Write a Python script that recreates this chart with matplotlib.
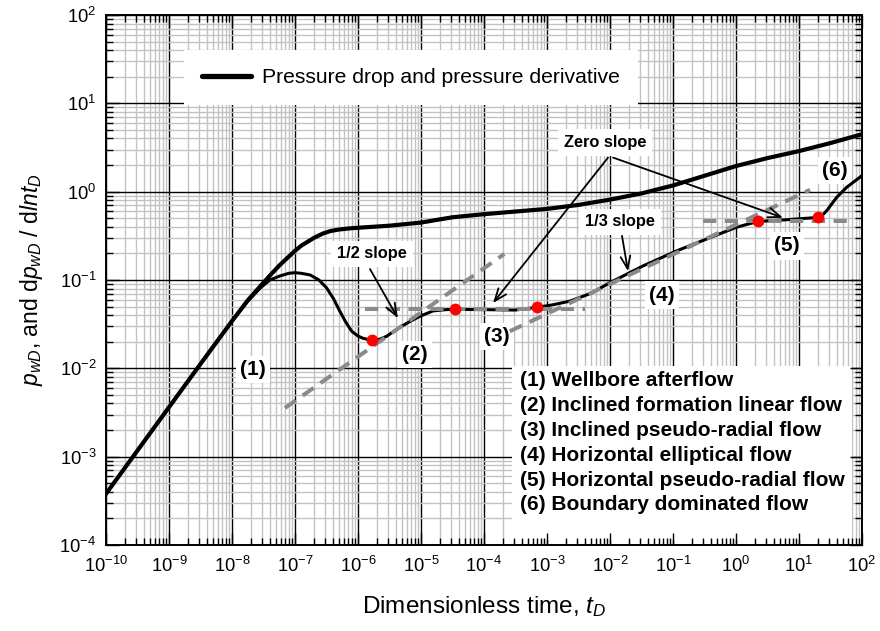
import numpy as np
import matplotlib
matplotlib.use('Agg')
import matplotlib.pyplot as plt
from matplotlib.lines import Line2D
from matplotlib.patches import Rectangle
from matplotlib.ticker import LogLocator, NullFormatter

plt.rcParams['font.family'] = ['Liberation Sans', 'DejaVu Sans']
plt.rcParams['mathtext.fontset'] = 'custom'
plt.rcParams['mathtext.rm'] = 'Liberation Sans'
plt.rcParams['mathtext.it'] = 'Liberation Sans:italic'
plt.rcParams['mathtext.bf'] = 'Liberation Sans:bold'

# ---------------- data ----------------
t_pressure = [1e-10, 1e-9, 3.16e-9, 1e-8, 1.78e-8, 2.82e-8, 3.98e-8, 5.75e-8, 1e-7,
              1.26e-7, 2e-7, 2.75e-7, 3.63e-7, 5e-7, 7.94e-7, 3.16e-6, 1e-5, 3.16e-5, 1e-4,
              3.16e-4, 1e-3, 3.16e-3, 1e-2, 3.16e-2, 0.1, 0.316, 1.0, 3.16, 10.0, 31.6, 100.0]
p_pressure = [3.8e-4, 3.63e-3, 0.0112, 0.0343, 0.0589, 0.0851, 0.112, 0.148, 0.214,
              0.245, 0.300, 0.335, 0.358, 0.373, 0.386, 0.412, 0.447, 0.513, 0.556,
              0.596, 0.638, 0.708, 0.813, 0.955, 1.175, 1.514, 1.95, 2.40, 2.88, 3.55, 4.47]

t_deriv = [1e-10, 1e-9, 3.16e-9, 1e-8, 1.78e-8, 2.82e-8, 3.98e-8, 5.75e-8, 7.94e-8,
           1e-7, 1.26e-7, 1.74e-7, 2.4e-7, 3.16e-7, 4.07e-7, 5.13e-7, 6.31e-7, 7.94e-7,
           1e-6, 1.2e-6, 1.66e-6, 2.24e-6, 2.85e-6, 3.72e-6, 4.94e-6, 7.08e-6, 9.64e-6,
           1.55e-5, 2.51e-5, 3.47e-5, 1e-4, 3.16e-4, 6.92e-4, 1.26e-3, 2.32e-3, 5.01e-3,
           1e-2, 3.39e-2, 0.115, 0.389, 1.0, 2.21, 6.31, 20.2, 24.0, 27.5, 39.6, 57.1, 100.0]
p_deriv = [3.8e-4, 3.63e-3, 0.0112, 0.0343, 0.0575, 0.0813, 0.100, 0.111, 0.119,
           0.121, 0.119, 0.114, 0.100, 0.0817, 0.0617, 0.0445, 0.0339, 0.0263,
           0.0232, 0.0219, 0.0207, 0.0214, 0.0231, 0.0263, 0.0300, 0.0347, 0.0389,
           0.0447, 0.0462, 0.0465, 0.0462, 0.0457, 0.0490, 0.0525, 0.0577, 0.0708,
           0.0933, 0.145, 0.214, 0.302, 0.394, 0.460, 0.481, 0.511, 0.55, 0.608, 0.861, 1.12, 1.52]

t_dots = [1.66e-6, 3.47e-5, 6.92e-4, 2.21, 20.2]
p_dots = [0.0207, 0.0465, 0.049, 0.460, 0.511]

half_slope_t = [6.9e-8, 2.1e-4]
half_slope_p = [0.00355, 0.197]
zero1_t = [1.3e-6, 4.0e-3]
zero1_p = [0.0468, 0.0468]
third_slope_t = [2.57e-4, 15.0]
third_slope_p = [0.0263, 1.05]
zero2_t = [0.30, 77.0]
zero2_p = [0.46, 0.46]

legend_label = 'Pressure drop and pressure derivative'
phase_labels = ['(1) Wellbore afterflow',
                '(2) Inclined formation linear flow',
                '(3) Inclined pseudo-radial flow',
                '(4) Horizontal elliptical flow',
                '(5) Horizontal pseudo-radial flow',
                '(6) Boundary dominated flow']

# ---------------- figure ----------------
fig = plt.figure(figsize=(8.8, 6.31), dpi=100)
pos = [106 / 880, 86 / 631, 756 / 880, 530 / 631]
ax = fig.add_axes(pos)


def setup_log(a):
    a.set_xscale('log')
    a.set_yscale('log')
    a.set_xlim(1e-10, 1e2)
    a.set_ylim(1e-4, 1e2)
    a.xaxis.set_major_locator(LogLocator(base=10, numticks=20))
    a.yaxis.set_major_locator(LogLocator(base=10, numticks=20))
    a.xaxis.set_minor_locator(LogLocator(base=10, subs=np.arange(2, 10), numticks=200))
    a.yaxis.set_minor_locator(LogLocator(base=10, subs=np.arange(2, 10), numticks=200))
    a.xaxis.set_minor_formatter(NullFormatter())
    a.yaxis.set_minor_formatter(NullFormatter())


setup_log(ax)
ax.set_axisbelow(True)
ax.grid(True, which='minor', color='#c2c2c2', lw=1.0)
ax.grid(True, which='major', color='black', lw=1.0)
ax.tick_params(which='both', length=0, labelsize=13.2)
ax.tick_params(axis='x', pad=8)
ax.tick_params(axis='y', pad=7)
for s in ax.spines.values():
    s.set_visible(False)

# curves
ax.plot(t_pressure, p_pressure, color='black', lw=3.0, zorder=4, solid_joinstyle='round')
ax.plot(t_deriv, p_deriv, color='black', lw=2.2, zorder=4, solid_joinstyle='round')

dash_kw = dict(color='#8a8a8a', lw=2.9, dashes=(3.3, 2.1), zorder=5)
ax.plot(half_slope_t, half_slope_p, **dash_kw)
ax.plot(zero1_t, zero1_p, **dash_kw)
ax.plot(third_slope_t, third_slope_p, **dash_kw)
ax.plot(zero2_t, zero2_p, **dash_kw)

ax.plot(t_dots, p_dots, 'o', color='red', ms=8.5, mec='none', zorder=6)

# labels with white boxes
box = dict(boxstyle='square,pad=0.2', fc='white', ec='none')
lab_kw = dict(fontsize=15, fontweight='bold', ha='center', va='center', bbox=box, zorder=3)
ax.text(2.15e-8, 0.00975, '(1)', **lab_kw)
ax.text(8.0e-6, 0.0144, '(2)', **lab_kw)
ax.text(1.6e-4, 0.0231, '(3)', **lab_kw)
ax.text(0.0668, 0.0676, '(4)', **lab_kw)
ax.text(6.46, 0.243, '(5)', **lab_kw)
ax.text(37.2, 1.73, '(6)', **lab_kw)

sl_kw = dict(fontsize=11.8, fontweight='bold', ha='center', va='center',
             bbox=dict(boxstyle='square,pad=0.35', fc='white', ec='none'), zorder=3)
ax.text(1.67e-6, 0.197, '1/2 slope', **sl_kw)
ax.text(8.3e-3, 3.6, 'Zero slope', **sl_kw)
ax.text(0.0144, 0.456, '1/3 slope', **sl_kw)

arr = dict(arrowstyle='->,head_length=0.9,head_width=0.35', lw=1.3, color='black',
           shrinkA=0, shrinkB=0)
ax.annotate('', xy=(4.3e-6, 0.037), xytext=(1.55e-6, 0.133), arrowprops=arr, zorder=7)
ax.annotate('', xy=(1.39e-4, 0.0548), xytext=(9.3e-3, 2.43), arrowprops=arr, zorder=7)
ax.annotate('', xy=(5.57, 0.507), xytext=(0.0112, 2.43), arrowprops=arr, zorder=7)
ax.annotate('', xy=(0.0193, 0.126), xytext=(0.0155, 0.316), arrowprops=arr, zorder=7)

# phase list box
ax.add_patch(Rectangle(((512 - 106) / 756, (545 - 540) / 530), 340 / 756, 174 / 530,
                       transform=ax.transAxes, fc='white', ec='none', zorder=2))
for i, lab in enumerate(phase_labels):
    ypx = 381 + 24.8 * i
    ax.text((520 - 106) / 756, (545 - ypx) / 530, lab, transform=ax.transAxes,
            fontsize=15, fontweight='bold', ha='left', va='center', zorder=3)

# legend
leg = ax.legend(handles=[Line2D([], [], color='black', lw=3.8, solid_capstyle='round')],
                labels=[legend_label],
                loc='upper left', bbox_to_anchor=((184 - 106) / 756, (545 - 50) / 530),
                borderaxespad=0, frameon=True, fancybox=False, framealpha=1,
                facecolor='white', edgecolor='none', fontsize=15.2,
                handlelength=2.3, handletextpad=0.55, borderpad=0.85)
leg.set_zorder(8)

ax.set_xlabel('Dimensionless time, $t_D$', fontsize=17.5, labelpad=13)
ax.set_ylabel('$p_{wD}$, and d$p_{wD}$ / d$lnt_D$', fontsize=16.5, labelpad=10)

# overlay axes for frame and inward ticks
ax2 = fig.add_axes(pos)
setup_log(ax2)
ax2.patch.set_visible(False)
ax2.tick_params(which='both', direction='in', top=True, right=True,
                labelbottom=False, labelleft=False, color='black', width=1.0)
ax2.tick_params(which='major', length=9)
ax2.tick_params(which='minor', length=5)
for s in ax2.spines.values():
    s.set_linewidth(1.4)

fig.savefig('out.png', dpi=100)
